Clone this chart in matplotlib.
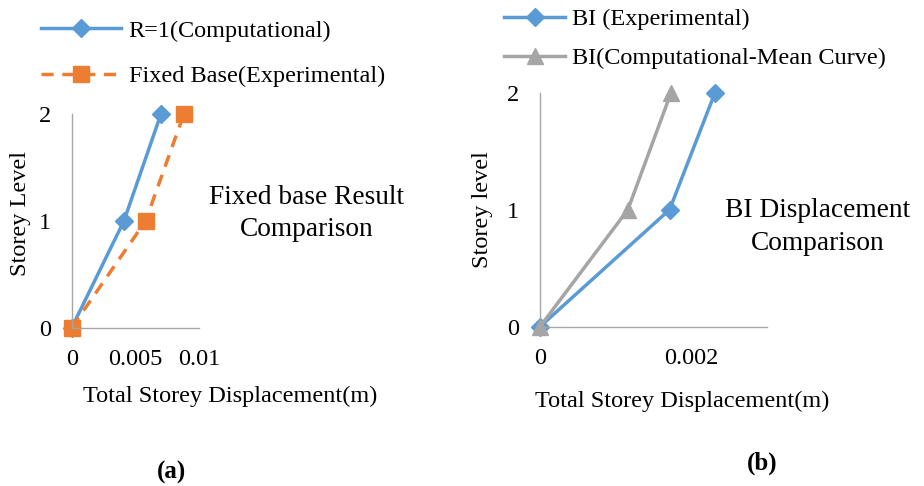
import matplotlib.pyplot as plt

# --- données ---
storey = [0, 1, 2]
r1_comp = [0, 0.0041, 0.0070]
fixed_exp = [0, 0.0058, 0.0088]
bi_exp = [0, 0.00171, 0.00231]
bi_comp = [0, 0.00116, 0.00173]

plt.rcParams['font.family'] = ['Liberation Serif', 'DejaVu Serif']
FS = 17.5

BLUE = '#5B9BD5'
ORANGE = '#ED7D31'
GREY = '#A5A5A5'
AXC = '#A6A6A6'

fig = plt.figure(figsize=(9.24, 4.86), dpi=100)


def style_axes(ax, xlim, xticks, xticklabels):
    ax.set_xlim(*xlim)
    ax.set_ylim(0, 2)
    ax.set_yticks([0, 1, 2])
    ax.set_xticks(xticks)
    ax.set_xticklabels(xticklabels)
    for s in ['top', 'right']:
        ax.spines[s].set_visible(False)
    for s in ['left', 'bottom']:
        ax.spines[s].set_color(AXC)
        ax.spines[s].set_linewidth(1)
    ax.tick_params(axis='y', length=0, labelsize=FS, pad=15)
    ax.tick_params(axis='x', length=0, labelsize=FS, pad=15)
    ax.patch.set_alpha(0)


# --- (a) ---
ax1 = fig.add_axes([0.0776, 0.3257, 0.1378, 0.439])
l1, = ax1.plot(r1_comp, storey, '-D', color=BLUE, lw=2.5, ms=9, clip_on=False,
               label='R=1(Computational)')
l2, = ax1.plot(fixed_exp, storey, '--s', color=ORANGE, lw=2.5, ms=11, clip_on=False,
               dashes=(3.5, 2.5), label='Fixed Base(Experimental)')
style_axes(ax1, (0, 0.01), [0, 0.005, 0.01], ['0', '0.005', '0.01'])
ax1.set_ylabel('Storey Level', fontsize=FS, va='center', ha='center')
ax1.set_xlabel('Total Storey Displacement(m)', fontsize=FS, va='center', ha='center')
ax1.xaxis.set_label_coords(1.243, -0.32)
ax1.yaxis.set_label_coords(-0.40, 0.537)
fig.legend(handles=[l1, l2], loc='upper left', bbox_to_anchor=(0.021, 1.004),
           frameon=False, fontsize=FS, handlelength=3.3, labelspacing=0.95,
           handletextpad=0.3)
fig.text(307 / 924, 1 - 213.5 / 486, 'Fixed base Result\nComparison', ha='center',
         va='center', fontsize=19.7, linespacing=1.42)
fig.text(171 / 924, 1 - 472 / 486, '(a)', ha='center', va='center',
         fontsize=18, fontweight='bold')

# --- (b) ---
ax2 = fig.add_axes([0.5844, 0.3278, 0.246, 0.4815])
l3, = ax2.plot(bi_exp, storey, '-D', color=BLUE, lw=2.5, ms=9, clip_on=False,
               label='BI (Experimental)')
l4, = ax2.plot(bi_comp, storey, '-^', color=GREY, lw=2.5, ms=11, clip_on=False,
               label='BI(Computational-Mean Curve)')
style_axes(ax2, (0, 0.003), [0, 0.002], ['0', '0.002'])
ax2.set_ylabel('Storey level', fontsize=FS, va='center', ha='center')
ax2.set_xlabel('Total Storey Displacement(m)', fontsize=FS, va='center', ha='center')
ax2.xaxis.set_label_coords(0.625, -0.318)
ax2.yaxis.set_label_coords(-0.251, 0.499)
fig.legend(handles=[l3, l4], loc='upper left', bbox_to_anchor=(0.522, 1.028),
           frameon=False, fontsize=FS, handlelength=2.5, labelspacing=0.7,
           handletextpad=0.3)
fig.text(818 / 924, 1 - 227 / 486, 'BI Displacement\nComparison', ha='center',
         va='center', fontsize=19.7, linespacing=1.42)
fig.text(762 / 924, 1 - 463 / 486, '(b)', ha='center', va='center',
         fontsize=18, fontweight='bold')

fig.savefig('out.png', dpi=100)
